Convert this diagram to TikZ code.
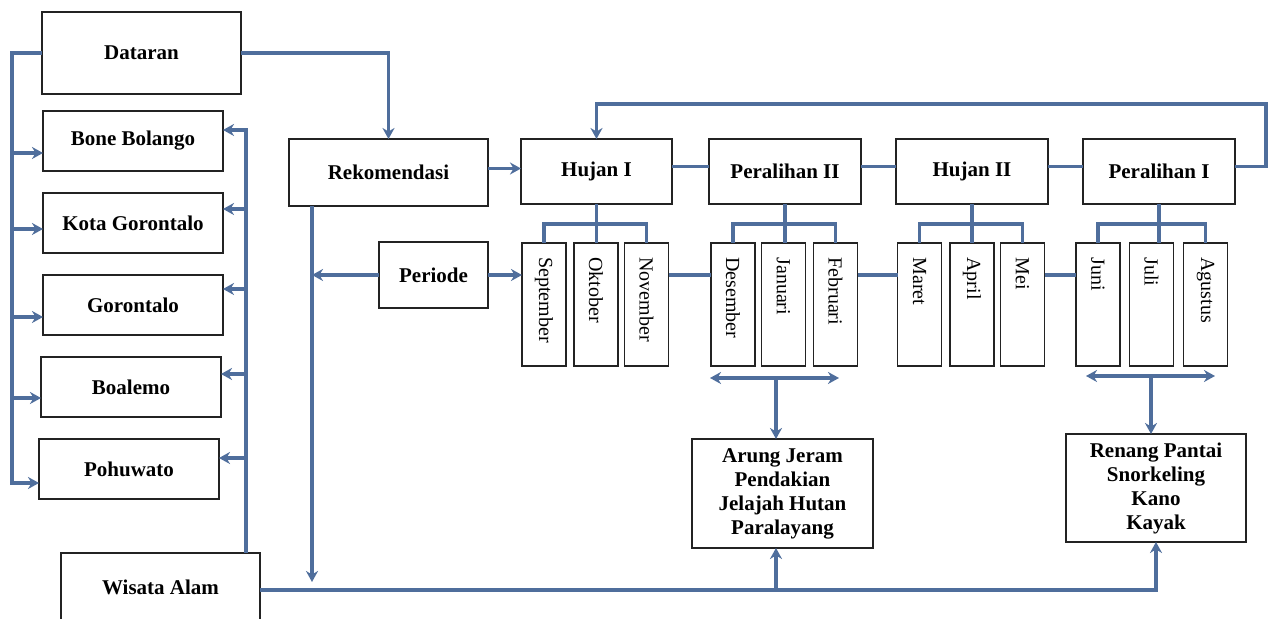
\documentclass[tikz,border=0pt]{standalone}
\usepackage{fontspec}
\setmainfont{Liberation Serif}
\usetikzlibrary{arrows.meta,calc}
\definecolor{conn}{RGB}{79,110,156}
\definecolor{edge}{RGB}{35,35,35}
\tikzset{
 box/.style={draw=edge, line width=0.9pt, fill=white, inner sep=0pt, outer sep=0pt, font=\fontsize{10.5}{12}\selectfont\bfseries, align=center},
 mbox/.style={draw=edge, line width=0.9pt, fill=white, inner sep=0pt, outer sep=0pt, minimum width=22pt, minimum height=61.5pt},
 mlab/.style={rotate=-90, anchor=west, inner sep=0pt, font=\fontsize{10}{12}\selectfont},
 wire/.style={draw=conn, line width=1.6pt},
 arr/.style={wire, -{Stealth[length=5.5pt,width=6pt]}},
 darr/.style={wire, {Stealth[length=5.5pt,width=6pt]}-{Stealth[length=5.5pt,width=6pt]}},
}
\newcommand{\bx}[6]{\node[box, minimum width={(#4-#2)*0.5pt}, minimum height={(#5-#3)*0.5pt}] (#1) at ({(#2+#4)/2},{(#3+#5)/2}) {#6};}
\newcommand{\mb}[3]{\node[mbox] (#1) at (#2,304.5) {}; \node[mlab] (#1-l) at ($(#1.north)+(0,14)$) {#3};}
\begin{document}
\begin{tikzpicture}[x=0.5pt,y=-0.5pt]
\useasboundingbox (0,0) rectangle (1271,619);
\clip (0,0) rectangle (1271,619);
\fill[white] (0,0) rectangle (1271,619);
% left column
\bx{Dataran}{42}{12}{241}{94}{Dataran}
\bx{BoneBolango}{43}{111}{223}{171}{Bone Bolango}
\bx{KotaGorontalo}{43}{193}{223}{253}{Kota Gorontalo}
\bx{Gorontalo}{43}{275}{223}{335}{Gorontalo}
\bx{Boalemo}{41}{357}{221}{417}{Boalemo}
\bx{Pohuwato}{39}{439}{219}{499}{Pohuwato}
\bx{Wisata}{61}{553}{260}{621}{Wisata Alam}
% middle
\bx{Rekomendasi}{289}{139}{488}{206}{Rekomendasi}
\bx{Periode}{379}{242}{488}{308}{Periode}
\bx{HujanI}{521}{139}{672}{204}{Hujan I}
\bx{PeralihanII}{709}{139}{861}{204}{Peralihan II}
\bx{HujanII}{896}{139}{1048}{204}{Hujan II}
\bx{PeralihanI}{1083}{139}{1235}{204}{Peralihan I}
\bx{Arung}{692}{439}{873}{548}{Arung Jeram\\Pendakian\\Jelajah Hutan\\Paralayang}
\bx{Renang}{1066}{434}{1246}{542}{Renang Pantai\\Snorkeling\\Kano\\Kayak}
% months
\mb{Sep}{544}{September}
\mb{Okt}{596}{Oktober}
\mb{Nov}{646.5}{November}
\mb{Des}{733}{Desember}
\mb{Jan}{783.5}{Januari}
\mb{Feb}{835.5}{Februari}
\mb{Mar}{919.5}{Maret}
\mb{Apr}{972}{April}
\mb{Mei}{1022.5}{Mei}
\mb{Jun}{1098}{Juni}
\mb{Jul}{1151.5}{Juli}
\mb{Agu}{1205.5}{Agustus}
% left bus
\coordinate (lbus) at (12,0);
\coordinate (pBB) at ($(BoneBolango.west)+(0,12)$);
\coordinate (pKG) at ($(KotaGorontalo.west)+(0,6)$);
\coordinate (pGO) at ($(Gorontalo.west)+(0,12)$);
\coordinate (pBO) at ($(Boalemo.west)+(0,11)$);
\coordinate (pPO) at ($(Pohuwato.west)+(0,14)$);
\draw[arr] (Dataran.west) -| (lbus |- pPO) -- (pPO);
\draw[arr] (lbus |- pBB) -- (pBB);
\draw[arr] (lbus |- pKG) -- (pKG);
\draw[arr] (lbus |- pGO) -- (pGO);
\draw[arr] (lbus |- pBO) -- (pBO);
% right bus
\coordinate (rbus) at (246,0);
\coordinate (qBB) at ($(BoneBolango.east)+(0,-11)$);
\coordinate (qKG) at ($(KotaGorontalo.east)+(0,-14)$);
\coordinate (qGO) at ($(Gorontalo.east)+(0,-16)$);
\coordinate (qBO) at ($(Boalemo.east)+(0,-13)$);
\coordinate (qPO) at ($(Pohuwato.east)+(0,-11)$);
\draw[arr] (rbus |- Wisata.north) |- (qBB);
\draw[arr] (rbus |- qKG) -- (qKG);
\draw[arr] (rbus |- qGO) -- (qGO);
\draw[arr] (rbus |- qBO) -- (qBO);
\draw[arr] (rbus |- qPO) -- (qPO);
% Dataran to Rekomendasi
\draw[arr] (Dataran.east) -| (Rekomendasi.north);
% Rekomendasi to Hujan I
\coordinate (rk) at ($(Rekomendasi.east)+(0,-4)$);
\draw[arr] (rk) -- (rk -| HujanI.west);
% Rekomendasi down
\coordinate (rd) at ($(Rekomendasi.south west)+(23,0)$);
\coordinate (rdend) at (312,582);
\draw[arr] (rd) -- (rdend);
% Periode
\draw[arr] (Periode.west) -- (Periode.west -| rd);
\draw[arr] (Periode.east) -- (Periode.east -| Sep.west);
% season chain
\draw[wire] ($(HujanI.east)+(0,-5)$) -- ($(PeralihanII.west)+(0,-5)$);
\draw[wire] ($(PeralihanII.east)+(0,-5)$) -- ($(HujanII.west)+(0,-5)$);
\draw[wire] ($(HujanII.east)+(0,-5)$) -- ($(PeralihanI.west)+(0,-5)$);
\draw[arr] ($(PeralihanI.east)+(0,-5)$) -- ++(31,0) |- ($(HujanI.north)+(0,-35)$) -- (HujanI.north);
% trees
\draw[wire] (Sep.north) -- ++(0,-19) -| (Nov.north);
\draw[wire] (HujanI.south) -- (HujanI.south |- Okt.north);
\draw[wire] (Des.north) -- ++(0,-19) -| (Feb.north);
\draw[wire] (PeralihanII.south) -- (PeralihanII.south |- Jan.north);
\draw[wire] (Mar.north) -- ++(0,-19) -| (Mei.north);
\draw[wire] (HujanII.south) -- (HujanII.south |- Apr.north);
\draw[wire] (Jun.north) -- ++(0,-19) -| (Agu.north);
\draw[wire] (PeralihanI.south) -- (PeralihanI.south |- Jul.north);
% month links
\draw[wire] (Nov.east |- Periode.east) -- (Des.west |- Periode.east);
\draw[wire] (Feb.east |- Periode.east) -- (Mar.west |- Periode.east);
\draw[wire] (Mei.east |- Periode.east) -- (Jun.west |- Periode.east);
% double arrows
\coordinate (dlM) at (776,378);
\draw[darr] ($(dlM)+(-66,0)$) -- ($(dlM)+(63,0)$);
\draw[arr] (dlM) -- (dlM |- Arung.north);
\coordinate (drM) at (1151,376);
\draw[darr] ($(drM)+(-65,0)$) -- ($(drM)+(64,0)$);
\draw[arr] (drM) -- (drM |- Renang.north);
% Wisata Alam line
\coordinate (wl) at ($(Wisata.east)+(0,3)$);
\draw[arr] (wl) -| (Renang.south);
\draw[arr] (wl -| dlM) -- (dlM |- Arung.south);
\end{tikzpicture}
\end{document}
